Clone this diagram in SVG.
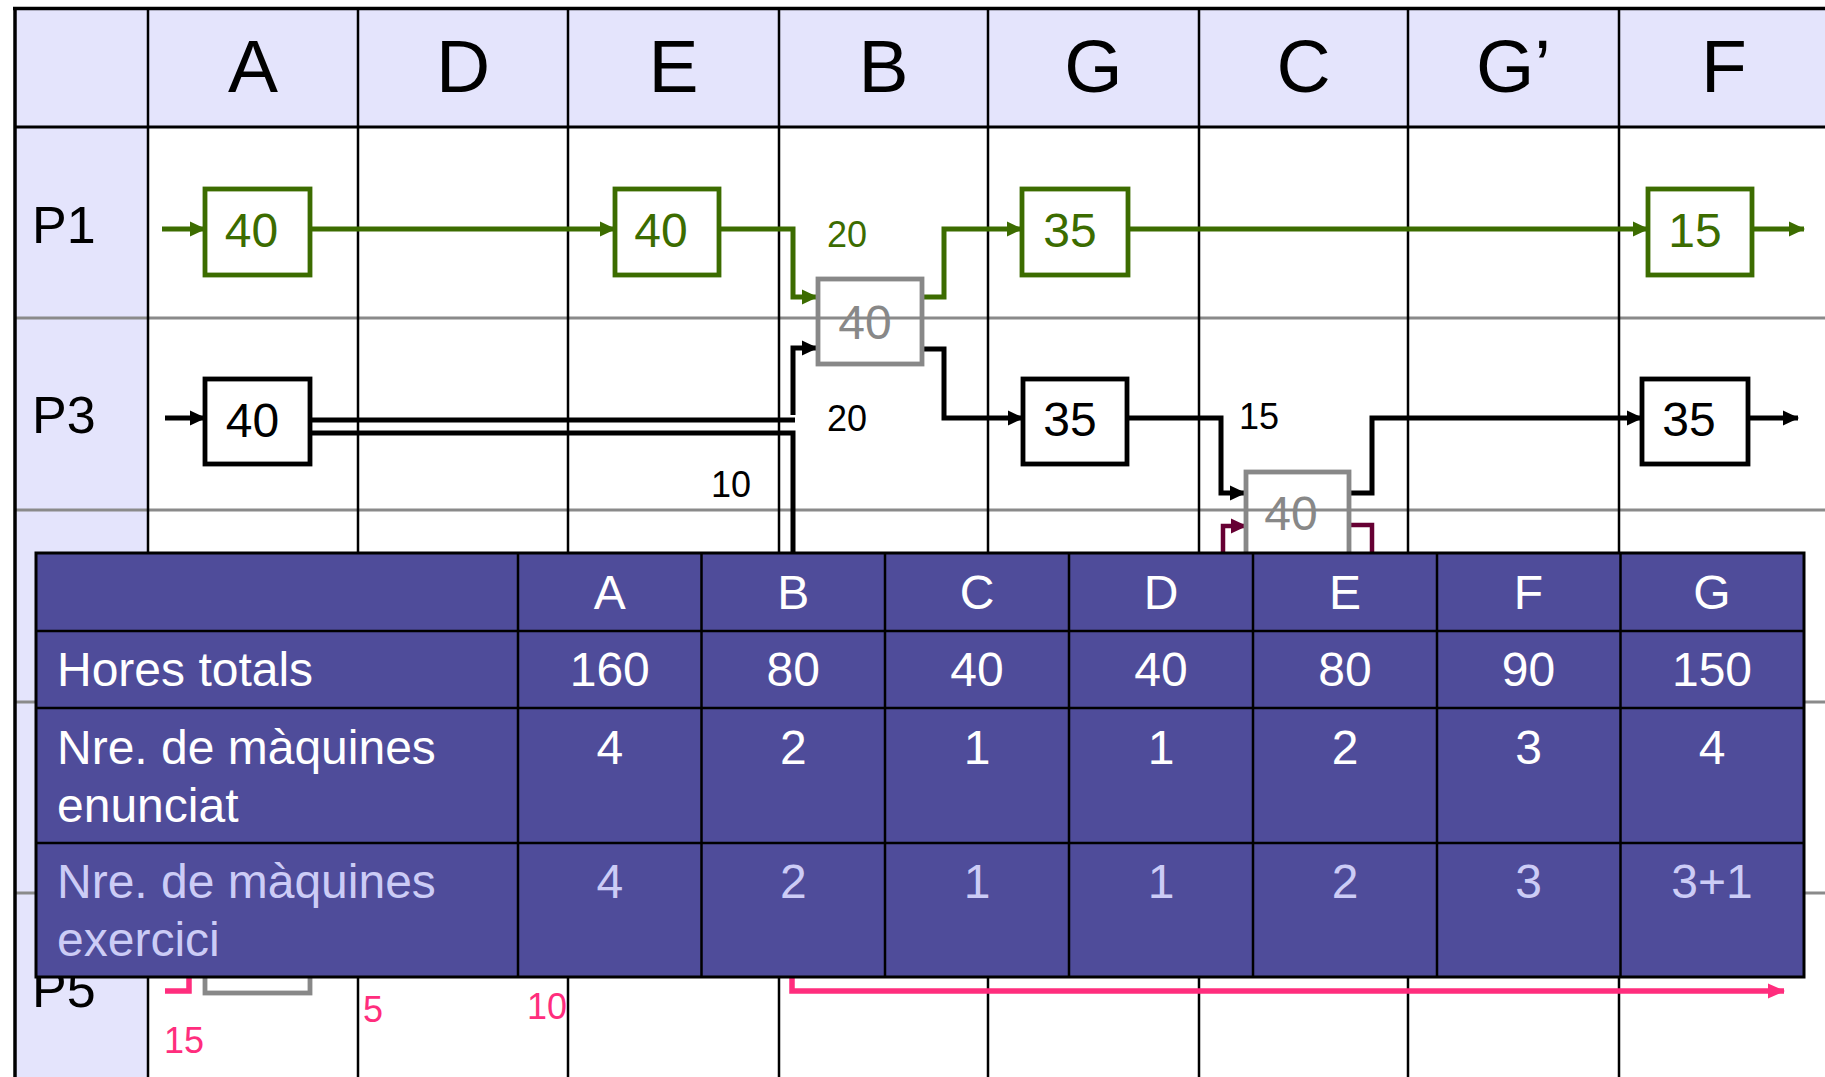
<svg xmlns="http://www.w3.org/2000/svg" width="1825" height="1077" viewBox="0 0 1825 1077">
<style>
text{font-family:"Liberation Sans",Arial,sans-serif}
.hdr{font-size:75px;fill:#000;text-anchor:middle}
.row{font-size:52px;fill:#000}
.grid{stroke:#000;stroke-width:2.5}
.rowline{stroke:#8a8a8a;stroke-width:3}
.box{fill:none;stroke-width:4.8}
.g{stroke:#3c6c00}
.k{stroke:#000}
.gr{stroke:#888}
.bt{font-size:48px;text-anchor:middle}
.tg{fill:#3c6c00}
.tk{fill:#000}
.tgr{fill:#888}
.tp{fill:#ff2d7d}
.lbl{font-size:36px}
.conn{fill:none;stroke-width:5}
.cg{stroke:#3c6c00}
.ck{stroke:#000}
.cm{stroke:#660033;stroke-width:4.5}
.cp{stroke:#ff2d7d;stroke-width:5.5}
.tbl{fill:#4f4c9a}
.tl{stroke:#000;stroke-width:2.5}
.tt{font-size:48px;fill:#fff}
.tt2{font-size:48px;fill:#ccccf6}
.c{text-anchor:middle}
</style>
<defs>
<marker id="ag" markerUnits="userSpaceOnUse" markerWidth="16" markerHeight="16" refX="15" refY="8" orient="auto"><path d="M0,0.5L16,8L0,15.5z" fill="#3c6c00"/></marker>
<marker id="ak" markerUnits="userSpaceOnUse" markerWidth="16" markerHeight="16" refX="15" refY="8" orient="auto"><path d="M0,0.5L16,8L0,15.5z" fill="#000"/></marker>
<marker id="am" markerUnits="userSpaceOnUse" markerWidth="16" markerHeight="16" refX="15" refY="8" orient="auto"><path d="M0,0.5L16,8L0,15.5z" fill="#660033"/></marker>
<marker id="ap" markerUnits="userSpaceOnUse" markerWidth="17" markerHeight="16" refX="16" refY="8" orient="auto"><path d="M0,0.5L17,8L0,15.5z" fill="#ff2d7d"/></marker>
</defs>

<g id="background">
<rect x="0" y="0" width="1825" height="1077" fill="#fff"/>
<rect x="15" y="8" width="1810" height="119" fill="#e4e4fc"/>
<rect x="15" y="127" width="133" height="950" fill="#e4e4fc"/>
</g>

<g id="grid">
<line class="rowline" x1="15" y1="318" x2="1825" y2="318"/>
<line class="rowline" x1="15" y1="510" x2="1825" y2="510"/>
<line class="rowline" x1="15" y1="702" x2="1825" y2="702"/>
<line class="rowline" x1="15" y1="893" x2="1825" y2="893"/>
<line class="grid" x1="148" y1="8" x2="148" y2="1077"/>
<line class="grid" x1="358" y1="8" x2="358" y2="1077"/>
<line class="grid" x1="568" y1="8" x2="568" y2="1077"/>
<line class="grid" x1="779" y1="8" x2="779" y2="1077"/>
<line class="grid" x1="988" y1="8" x2="988" y2="1077"/>
<line class="grid" x1="1199" y1="8" x2="1199" y2="1077"/>
<line class="grid" x1="1408" y1="8" x2="1408" y2="1077"/>
<line class="grid" x1="1619" y1="8" x2="1619" y2="1077"/>
<line x1="15" y1="127" x2="1825" y2="127" stroke="#000" stroke-width="2.8"/>
<line x1="13" y1="8.5" x2="1825" y2="8.5" stroke="#000" stroke-width="3.5"/>
<line x1="15" y1="7" x2="15" y2="1077" stroke="#000" stroke-width="3.5"/>
</g>

<g id="headers">
<text class="hdr" x="253" y="92">A</text>
<text class="hdr" x="463" y="92">D</text>
<text class="hdr" x="673.5" y="92">E</text>
<text class="hdr" x="883.5" y="92">B</text>
<text class="hdr" x="1093.5" y="92">G</text>
<text class="hdr" x="1303.5" y="92">C</text>
<text class="hdr" x="1513.5" y="92">G’</text>
<text class="hdr" x="1724" y="92">F</text>
<text class="row" x="32" y="243">P1</text>
<text class="row" x="32" y="433">P3</text>
<text class="row" x="32" y="1007">P5</text>
</g>

<g id="connectors" class="conn">
<path class="cg" d="M162,229H205" marker-end="url(#ag)"/>
<path class="cg" d="M310,229H615" marker-end="url(#ag)"/>
<path class="cg" d="M719,229H793V297H817" marker-end="url(#ag)"/>
<path class="cg" d="M922,297H944V229H1022" marker-end="url(#ag)"/>
<path class="cg" d="M1128,229H1648" marker-end="url(#ag)"/>
<path class="cg" d="M1752,229H1804" marker-end="url(#ag)"/>
<path class="ck" d="M165,418H205" marker-end="url(#ak)"/>
<path class="ck" d="M310,420H795"/>
<path class="ck" d="M793,415V348H817" marker-end="url(#ak)"/>
<path class="ck" d="M310,433H793V553"/>
<path class="ck" d="M922,349H944V418H1023" marker-end="url(#ak)"/>
<path class="ck" d="M1127,418H1221V493H1245" marker-end="url(#ak)"/>
<path class="ck" d="M1349,493H1372V418H1642" marker-end="url(#ak)"/>
<path class="ck" d="M1748,418H1798" marker-end="url(#ak)"/>
<path class="cm" d="M1223,553V526H1246" marker-end="url(#am)"/>
<path class="cm" d="M1349,525H1372V553"/>
<path class="cp" d="M189,977V991H165"/>
<path class="cp" d="M792,977V991H1784" marker-end="url(#ap)"/>
</g>

<g id="labels">
<text class="lbl tg" x="827" y="247">20</text>
<text class="lbl tk" x="827" y="431">20</text>
<text class="lbl tk" x="711" y="497">10</text>
<text class="lbl tk" x="1239" y="429">15</text>
<text class="lbl tp" x="164" y="1053">15</text>
<text class="lbl tp" x="363" y="1022">5</text>
<text class="lbl tp" x="527" y="1019">10</text>
</g>

<g id="node-p1-a"><rect class="box g" x="205" y="189" width="105" height="86"/><text class="bt tg" x="251.5" y="247">40</text></g>
<g id="node-p1-e"><rect class="box g" x="615" y="189" width="104" height="86"/><text class="bt tg" x="661" y="247">40</text></g>
<g id="node-b-shared"><rect class="box gr" x="818" y="279" width="104" height="85"/><text class="bt tgr" x="865" y="339">40</text></g>
<g id="node-p1-g"><rect class="box g" x="1022" y="189" width="106" height="86"/><text class="bt tg" x="1070" y="247">35</text></g>
<g id="node-p1-f"><rect class="box g" x="1648" y="189" width="104" height="86"/><text class="bt tg" x="1695" y="247">15</text></g>
<g id="node-p3-a"><rect class="box k" x="205" y="379" width="105" height="85"/><text class="bt tk" x="252.5" y="437">40</text></g>
<g id="node-p3-g"><rect class="box k" x="1023" y="379" width="104" height="85"/><text class="bt tk" x="1070" y="436">35</text></g>
<g id="node-c-shared"><rect class="box gr" x="1246" y="472" width="103" height="86"/><text class="bt tgr" x="1291" y="530">40</text></g>
<g id="node-p3-f"><rect class="box k" x="1642" y="379" width="106" height="85"/><text class="bt tk" x="1689" y="436">35</text></g>
<g id="node-p5-a"><rect class="box gr" x="205" y="908" width="105" height="85"/></g>

<g id="table">
<rect class="tbl" x="36" y="553" width="1768" height="424"/>
<line class="tl" x1="36" y1="631" x2="1804" y2="631"/>
<line class="tl" x1="36" y1="708" x2="1804" y2="708"/>
<line class="tl" x1="36" y1="843" x2="1804" y2="843"/>
<line class="tl" x1="518" y1="553" x2="518" y2="977"/>
<line class="tl" x1="701.5" y1="553" x2="701.5" y2="977"/>
<line class="tl" x1="885" y1="553" x2="885" y2="977"/>
<line class="tl" x1="1069" y1="553" x2="1069" y2="977"/>
<line class="tl" x1="1253" y1="553" x2="1253" y2="977"/>
<line class="tl" x1="1437" y1="553" x2="1437" y2="977"/>
<line class="tl" x1="1620.5" y1="553" x2="1620.5" y2="977"/>
<rect x="36" y="553" width="1768" height="424" fill="none" stroke="#000" stroke-width="3"/>
<g class="tt c">
<text x="609.75" y="609">A</text><text x="793.25" y="609">B</text><text x="977" y="609">C</text><text x="1161" y="609">D</text><text x="1345" y="609">E</text><text x="1528.5" y="609">F</text><text x="1712" y="609">G</text>
<text x="609.75" y="686">160</text><text x="793.25" y="686">80</text><text x="977" y="686">40</text><text x="1161" y="686">40</text><text x="1345" y="686">80</text><text x="1528.5" y="686">90</text><text x="1712" y="686">150</text>
<text x="609.75" y="764">4</text><text x="793.25" y="764">2</text><text x="977" y="764">1</text><text x="1161" y="764">1</text><text x="1345" y="764">2</text><text x="1528.5" y="764">3</text><text x="1712" y="764">4</text>
</g>
<text class="tt" x="57" y="686">Hores totals</text>
<text class="tt" x="57" y="764">Nre. de màquines</text>
<text class="tt" x="57" y="822">enunciat</text>
<text class="tt2" x="57" y="898">Nre. de màquines</text>
<text class="tt2" x="57" y="956">exercici</text>
<g class="tt2 c">
<text x="609.75" y="898">4</text><text x="793.25" y="898">2</text><text x="977" y="898">1</text><text x="1161" y="898">1</text><text x="1345" y="898">2</text><text x="1528.5" y="898">3</text><text x="1712" y="898">3+1</text>
</g>
</g>
</svg>
